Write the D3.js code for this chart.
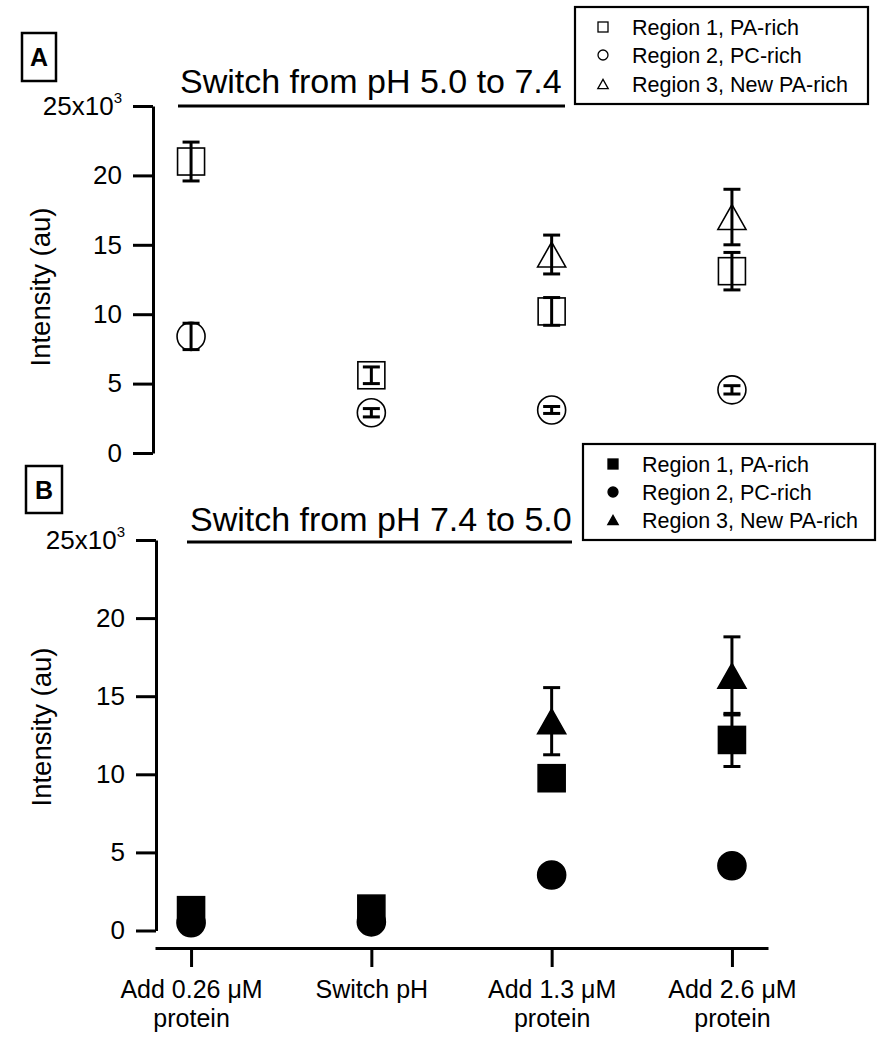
<!DOCTYPE html>
<html>
<head>
<meta charset="utf-8">
<script src="https://cdn.jsdelivr.net/npm/d3@7"></script>
<style>
  body { margin: 0; background: #fff; }
  svg { display: block; font-family: "Liberation Sans", Arial, sans-serif; }
</style>
</head>
<body>
<svg id="chart" width="887" height="1050"></svg>
<script>
// ---------------- data ----------------
const categories = ["Add 0.26 \u03bcM|protein", "Switch pH", "Add 1.3 \u03bcM|protein", "Add 2.6 \u03bcM|protein"];
const yTicks = [0, 5, 10, 15, 20, 25];
const seriesNames = ["Region 1, PA-rich", "Region 2, PC-rich", "Region 3, New PA-rich"];

// Panel A: switch from pH 5.0 to 7.4 (values in 10^3 au)
const regionA1 = [21.0, 5.6, 10.2, 13.1];
const regionA1Err = [1.4, 0.6, 1.0, 1.35];
const regionA2 = [8.4, 2.9, 3.1, 4.55];
const regionA2Err = [0.95, 0.3, 0.25, 0.3];
const regionA3 = [null, null, 14.3, 17.0];
const regionA3Err = [null, null, 1.4, 2.0];

// Panel B: switch from pH 7.4 to 5.0
const regionB1 = [1.3, 1.4, 9.75, 12.2];
const regionB1Err = [0.3, 0.3, 0.5, 1.7];
const regionB2 = [0.5, 0.55, 3.55, 4.15];
const regionB2Err = [0.2, 0.2, 0.3, 0.3];
const regionB3 = [null, null, 13.4, 16.3];
const regionB3Err = [null, null, 2.15, 2.5];

const titleA = "Switch from pH 5.0 to 7.4";
const titleB = "Switch from pH 7.4 to 5.0";
const yLabel = "Intensity (au)";

// ---------------- layout ----------------
const svg = d3.select("#chart");
const FONT_TICK = 26, FONT_XLAB = 25, FONT_TITLE = 34, FONT_LEG = 21.5, FONT_YLAB = 27.5;

const x = d3.scalePoint().domain(categories).range([155, 768]).padding(0.2);

const panels = [
  { label: "A", filled: false, title: titleA,
    series: [[regionA1, regionA1Err], [regionA2, regionA2Err], [regionA3, regionA3Err]],
    yRange: [453, 106], axisX: 153,
    labelBox: [22, 33, 34, 48],
    titleX: 180, titleY: 93, lineX: [178, 565], lineY: 106,
    legBox: [575, 7, 293, 97], legRows: [35, 63, 92], legMarkX: 603, legTextX: 632,
    yLabX: 50, yLabY: 287 },
  { label: "B", filled: true, title: titleB,
    series: [[regionB1, regionB1Err], [regionB2, regionB2Err], [regionB3, regionB3Err]],
    yRange: [930.5, 540], axisX: 156,
    labelBox: [26, 466, 36, 47],
    titleX: 190, titleY: 531, lineX: [187, 572], lineY: 542,
    legBox: [583, 444, 292, 96], legRows: [472, 500, 528], legMarkX: 613, legTextX: 642,
    yLabX: 51, yLabY: 727 }
];

const shapes = ["square", "circle", "triangle"];

function drawMarker(g, shape, cx, cy, size, filled, sw) {
  const fill = filled ? "#000" : "none";
  if (shape === "square") {
    g.append("rect").attr("x", cx - size / 2).attr("y", cy - size / 2)
      .attr("width", size).attr("height", size)
      .attr("fill", fill).attr("stroke", "#000").attr("stroke-width", sw);
  } else if (shape === "circle") {
    g.append("circle").attr("cx", cx).attr("cy", cy).attr("r", size / 2)
      .attr("fill", fill).attr("stroke", "#000").attr("stroke-width", sw);
  } else {
    const w = size * 1.04, h = size * 0.92;
    g.append("path")
      .attr("d", `M${cx},${cy - h / 2}L${cx + w / 2},${cy + h / 2}L${cx - w / 2},${cy + h / 2}Z`)
      .attr("fill", fill).attr("stroke", "#000").attr("stroke-width", sw)
      .attr("stroke-linejoin", "miter");
  }
}

panels.forEach(p => {
  const y = d3.scaleLinear().domain([0, 25]).range(p.yRange);
  const g = svg.append("g");

  // y axis
  const ax = g.append("g").attr("transform", `translate(${p.axisX},0)`)
    .call(d3.axisLeft(y).tickValues(yTicks).tickSize(20).tickSizeOuter(0).tickPadding(11)
      .tickFormat(d => d === 25 ? "25x10" : d));
  ax.select(".domain").attr("stroke-width", 3);
  ax.selectAll(".tick line").attr("stroke-width", 3);
  ax.selectAll(".tick text").attr("font-size", FONT_TICK).attr("fill", "#000")
    .attr("font-family", "Liberation Sans, Arial, sans-serif")
    .filter(d => d === 25)
    .append("tspan").attr("font-size", 15).attr("dy", -12).text("3");

  // y label
  g.append("text")
    .attr("transform", `translate(${p.yLabX},${p.yLabY}) rotate(-90)`)
    .attr("text-anchor", "middle").attr("font-size", FONT_YLAB).text(yLabel);

  // panel label box
  const [bx, by, bw, bh] = p.labelBox;
  g.append("rect").attr("x", bx).attr("y", by).attr("width", bw).attr("height", bh)
    .attr("fill", "none").attr("stroke", "#000").attr("stroke-width", 2.5);
  g.append("text").attr("x", bx + bw / 2).attr("y", by + bh / 2 + 9)
    .attr("text-anchor", "middle").attr("font-size", 25).attr("font-weight", "bold").text(p.label);

  // title with underline
  g.append("text").attr("x", p.titleX).attr("y", p.titleY)
    .attr("font-size", FONT_TITLE).text(p.title);
  g.append("line").attr("x1", p.lineX[0]).attr("x2", p.lineX[1])
    .attr("y1", p.lineY).attr("y2", p.lineY).attr("stroke", "#000").attr("stroke-width", 3);

  // markers, then error bars on top
  const mk = g.append("g");
  const eb = g.append("g");
  p.series.forEach(([vals, errs], si) => {
    vals.forEach((v, i) => {
      if (v == null) return;
      const cx = x(categories[i]);
      const cy = y(v);
      drawMarker(mk, shapes[si], cx, cy, si === 1 ? 28 : 27, p.filled, 1.6);
      const e = errs[i];
      if (e != null) {
        const y1 = y(v + e), y2 = y(v - e);
        eb.append("line").attr("x1", cx).attr("x2", cx).attr("y1", y1).attr("y2", y2)
          .attr("stroke", "#000").attr("stroke-width", 3);
        [y1, y2].forEach(yy => eb.append("line")
          .attr("x1", cx - 8.5).attr("x2", cx + 8.5).attr("y1", yy).attr("y2", yy)
          .attr("stroke", "#000").attr("stroke-width", 3));
      }
    });
  });

  // legend
  const [lx, ly, lw, lh] = p.legBox;
  g.append("rect").attr("x", lx).attr("y", ly).attr("width", lw).attr("height", lh)
    .attr("fill", "#fff").attr("stroke", "#000").attr("stroke-width", 2.2);
  seriesNames.forEach((name, si) => {
    const ry = p.legRows[si];
    drawMarker(g, shapes[si], p.legMarkX, ry - 8, 10, p.filled, 1.3);
    g.append("text").attr("x", p.legTextX).attr("y", ry)
      .attr("font-size", FONT_LEG).text(name);
  });
});

// bottom x axis (shared categories)
const xa = svg.append("g").attr("transform", "translate(0,948)")
  .call(d3.axisBottom(x).tickSize(19).tickSizeOuter(0));
xa.select(".domain").attr("stroke-width", 3);
xa.selectAll(".tick line").attr("stroke-width", 3);
xa.selectAll(".tick text").remove();
xa.selectAll(".tick").each(function (d) {
  const lines = d.split("|");
  lines.forEach((ln, k) => d3.select(this).append("text").attr("text-anchor", "middle")
    .attr("font-size", FONT_XLAB).attr("fill", "#000")
    .attr("font-family", "Liberation Sans, Arial, sans-serif")
    .attr("x", 0).attr("y", 50 + k * 29).text(ln));
});
</script>
</body>
</html>
